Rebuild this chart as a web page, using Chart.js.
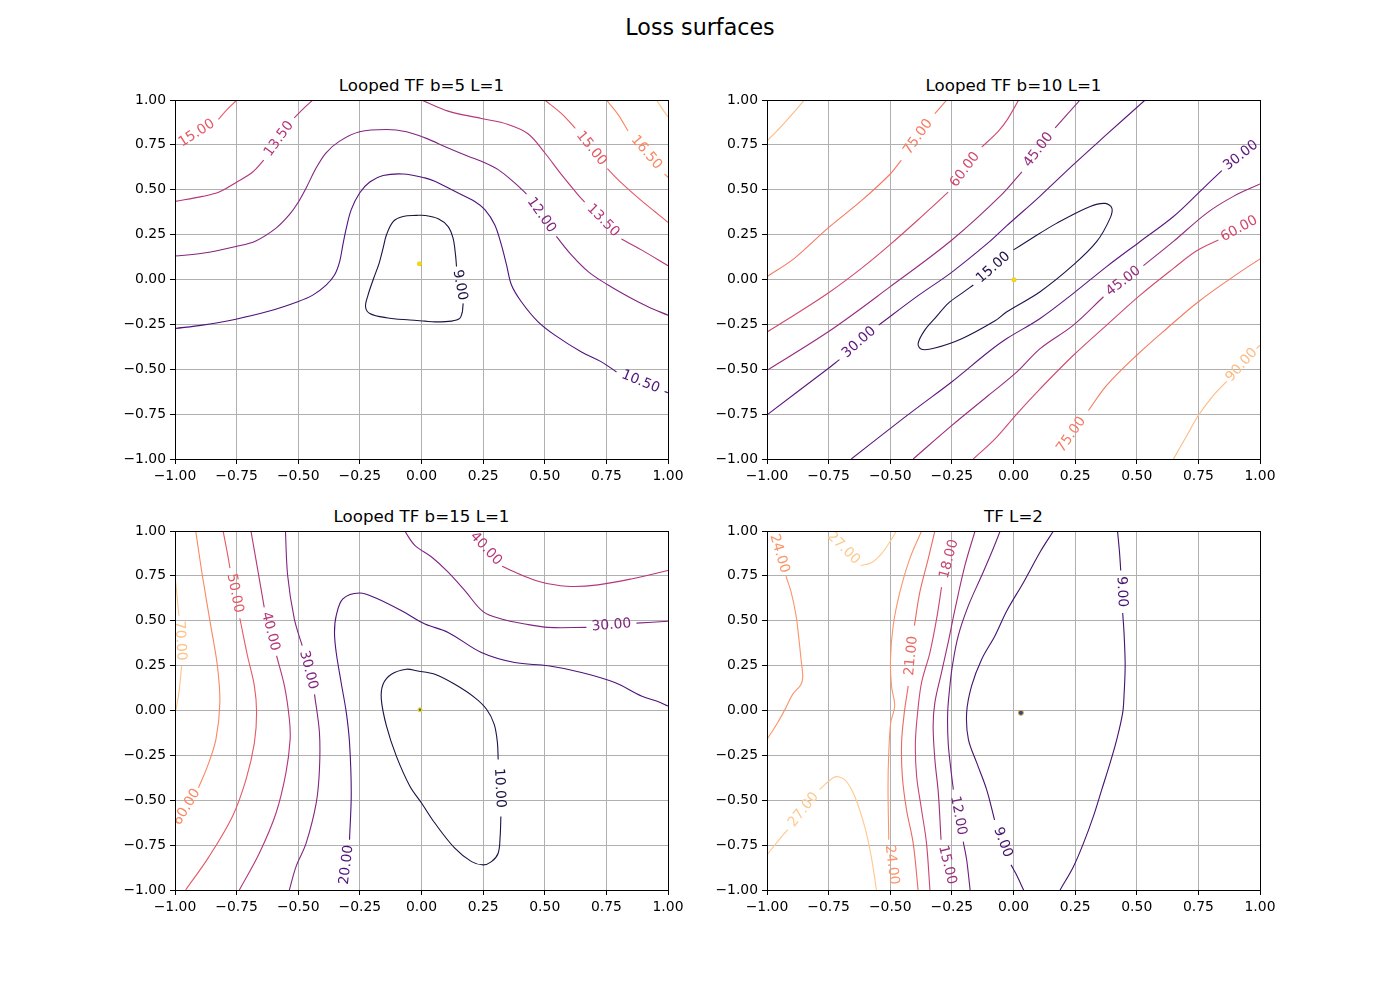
<!DOCTYPE html>
<html>
<head>
<meta charset="utf-8">
<script src="https://cdn.jsdelivr.net/npm/chart.js@4.4.1/dist/chart.umd.min.js"></script>
<style>
  body { margin: 0; background: #fff; }
  #fig { position: relative; width: 1400px; height: 1000px; font-family: "DejaVu Sans", sans-serif; color: #000; }
  .title { position: absolute; width: 400px; text-align: center; line-height: 1; white-space: nowrap; }
  canvas { position: absolute; }
</style>
</head>
<body>
<div id="fig">
  <div class="title" style="left:500px; top:16px; font-size:22.2px;">Loss surfaces</div>
  <div class="title" style="left:221.5px; top:78px; font-size:16.67px;">Looped TF b=5 L=1</div>
  <div class="title" style="left:813.5px; top:78px; font-size:16.67px;">Looped TF b=10 L=1</div>
  <div class="title" style="left:221.5px; top:509px; font-size:16.67px;">Looped TF b=15 L=1</div>
  <div class="title" style="left:813.5px; top:509px; font-size:16.67px;">TF L=2</div>
  <canvas id="c0" width="588" height="409" style="left:100px; top:80px;"></canvas>
  <canvas id="c1" width="588" height="409" style="left:692px; top:80px;"></canvas>
  <canvas id="c2" width="588" height="409" style="left:100px; top:511px;"></canvas>
  <canvas id="c3" width="588" height="409" style="left:692px; top:511px;"></canvas>
</div>
<script>
// tick positions shared by every panel
const ticks = [-1, -0.75, -0.5, -0.25, 0, 0.25, 0.5, 0.75, 1];

// contour paths, [x, y]; null = gap where the label sits
// --- Looped TF b=5 L=1
const tl9 = [[0.166,-0.180],[0.169,-0.133],null,[0.142,0.072],[0.138,0.137],[0.128,0.230],[0.108,0.295],[0.068,0.338],[0.014,0.357],[-0.020,0.357],[-0.075,0.351],[-0.115,0.323],[-0.142,0.249],[-0.156,0.174],[-0.172,0.090],[-0.194,0.007],[-0.217,-0.087],[-0.227,-0.152],[-0.210,-0.189],[-0.142,-0.213],[-0.047,-0.226],[0.014,-0.232],[0.054,-0.236],[0.122,-0.232],[0.155,-0.217],[0.166,-0.180]];
const tl105 = [[-1,-0.273],[-0.889,-0.254],[-0.753,-0.221],[-0.617,-0.176],[-0.502,-0.124],[-0.441,-0.087],[-0.387,-0.031],[-0.353,0.025],[-0.332,0.100],[-0.319,0.193],[-0.305,0.286],[-0.285,0.389],[-0.251,0.482],[-0.210,0.543],[-0.156,0.579],[-0.075,0.588],[0.014,0.566],[0.054,0.547],[0.135,0.491],[0.216,0.435],[0.257,0.389],[0.297,0.305],[0.324,0.193],[0.345,0.081],[0.365,-0.031],[0.405,-0.124],[0.473,-0.236],[0.541,-0.310],[0.649,-0.404],[0.730,-0.459],[0.791,-0.515],null,[0.986,-0.624],[1.0,-0.631]];
const tl12 = [[-1,0.131],[-0.889,0.146],[-0.753,0.184],[-0.672,0.215],[-0.590,0.286],[-0.536,0.361],[-0.502,0.426],[-0.468,0.510],[-0.427,0.622],[-0.387,0.706],[-0.332,0.771],[-0.251,0.823],[-0.142,0.836],[-0.061,0.823],[0.014,0.789],[0.108,0.733],[0.189,0.687],[0.243,0.659],[0.311,0.612],[0.378,0.538],[0.426,0.476],null,[0.547,0.240],[0.608,0.137],[0.676,0.044],[0.757,-0.031],[0.851,-0.105],[0.919,-0.152],[1.0,-0.199]];
const tl135a = [[-1,0.435],[-0.889,0.463],[-0.821,0.487],[-0.749,0.543],[-0.685,0.599],[-0.640,0.665],null,[-0.516,0.901],[-0.482,0.948],[-0.441,1.0]];
const tl135b = [[0,1.0],[0.108,0.938],[0.243,0.897],[0.351,0.864],[0.432,0.812],[0.5,0.706],[0.568,0.584],[0.635,0.472],[0.662,0.431],null,[0.811,0.226],[0.892,0.165],[1.0,0.077]];
const tl15a = [[-1,0.737],null,[-0.824,0.892],[-0.79,0.945],[-0.749,1.0]];
const tl15b = [[0.5,1.0],[0.568,0.924],[0.624,0.842],null,[0.754,0.618],[0.811,0.538],[0.892,0.439],[0.946,0.379],[1.0,0.318]];
const tl165 = [[0.75,1.0],[0.797,0.92],[0.838,0.827],null,[0.986,0.588],[1.0,0.569]];
const tl18 = [[0.953,1.0],[0.975,0.955],[1.0,0.905]];

// --- Looped TF b=10 L=1
const tr15 = [[0.054,0.212],[0.176,0.314],[0.311,0.407],[0.372,0.424],[0.399,0.398],[0.392,0.342],[0.338,0.212],[0.243,0.081],[0.108,-0.068],[-0.027,-0.180],[-0.075,-0.230],[-0.210,-0.330],[-0.319,-0.382],[-0.373,-0.389],[-0.387,-0.357],[-0.360,-0.282],[-0.319,-0.217],[-0.265,-0.133],[-0.210,-0.077],[-0.163,-0.031],null,[0.0,0.165],[0.054,0.212]];
const tr30a = [[-1,-0.754],[-0.753,-0.497],[-0.706,-0.446],null,[-0.547,-0.254],[-0.387,-0.090],[-0.251,0.040],[-0.102,0.205],[-0.027,0.300],[0.108,0.465],[0.243,0.640],[0.378,0.808],[0.534,1.0]];
const tr30b = [[-0.658,-1.0],[-0.502,-0.832],[-0.387,-0.711],[-0.251,-0.571],[-0.102,-0.404],[-0.027,-0.329],[0.108,-0.217],[0.243,-0.077],[0.378,0.072],[0.514,0.212],[0.649,0.351],[0.757,0.491],[0.845,0.607],null,[1.0,0.775]];
const tr45a = [[-1,-0.506],[-0.75,-0.29],[-0.5,-0.04],[-0.25,0.22],[-0.05,0.47],[0.034,0.60],null,[0.169,0.845],[0.27,1.0]];
const tr45b = [[-0.407,-1.0],[-0.251,-0.814],[-0.102,-0.646],[0.014,-0.515],[0.108,-0.385],[0.243,-0.254],[0.365,-0.096],null,[0.527,0.077],[0.649,0.212],[0.784,0.370],[0.892,0.463],[1.0,0.532]];
const tr60a = [[-1,-0.292],[-0.889,-0.198],[-0.753,-0.077],[-0.617,0.062],[-0.502,0.193],[-0.387,0.333],[-0.265,0.487],null,[-0.129,0.737],[-0.061,0.827],[-0.026,0.889],[0.021,1.0]];
const tr60b = [[-0.163,-1.0],[-0.075,-0.888],[0.014,-0.748],[0.108,-0.609],[0.243,-0.422],[0.378,-0.254],[0.514,-0.087],[0.649,0.062],[0.743,0.160],[0.831,0.220],null,[1.0,0.345]];
const tr75a = [[-1,0.016],[-0.889,0.118],[-0.753,0.286],[-0.617,0.439],[-0.502,0.585],[-0.455,0.665],null,[-0.319,0.924],[-0.271,1.0]];
const tr75b = [[0.165,-1.0],null,[0.304,-0.73],[0.378,-0.59],[0.5,-0.422],[0.622,-0.273],[0.75,-0.124],[0.892,0.016],[1.0,0.115]];
const tr90a = [[-1,0.771],[-0.929,0.873],[-0.848,1.0]];
const tr90b = [[0.649,-1.0],[0.703,-0.87],[0.75,-0.758],[0.811,-0.646],[0.865,-0.568],null,[0.986,-0.385],[1.0,-0.366]];

// --- Looped TF b=15 L=1
const bl10 = [[0.322,-0.590],[0.319,-0.702],[0.311,-0.795],[0.284,-0.842],[0.25,-0.860],[0.203,-0.842],[0.135,-0.767],[0.054,-0.627],[0.0,-0.515],[-0.047,-0.422],[-0.102,-0.254],[-0.142,-0.087],[-0.163,0.062],[-0.156,0.146],[-0.122,0.202],[-0.061,0.230],[-0.020,0.221],[0.054,0.202],[0.135,0.146],[0.216,0.072],[0.264,0.007],[0.295,-0.077],[0.308,-0.180],[0.311,-0.273],null,[0.322,-0.590]];
const bl20 = [[-0.316,-1.0],null,[-0.292,-0.720],[-0.285,-0.459],[-0.292,-0.180],[-0.305,-0.012],[-0.326,0.156],[-0.346,0.323],[-0.353,0.435],[-0.346,0.528],[-0.319,0.622],[-0.251,0.655],[-0.183,0.625],[-0.075,0.551],[0.014,0.482],[0.108,0.435],[0.243,0.323],[0.378,0.267],[0.514,0.249],[0.649,0.212],[0.784,0.156],[0.892,0.081],[0.959,0.050],[1.0,0.025]];
const bl30a = [[-0.552,1.0],[-0.543,0.752],[-0.516,0.510],[-0.484,0.361],null,[-0.434,0.090],[-0.414,-0.124],[-0.414,-0.329],[-0.427,-0.515],[-0.468,-0.739],[-0.509,-0.870],[-0.536,-1.0]];
const bl30b = [[-0.068,1.0],[-0.027,0.920],[0.041,0.855],[0.108,0.771],[0.176,0.668],[0.25,0.551],[0.324,0.510],[0.419,0.482],[0.514,0.463],[0.669,0.463],null,[0.872,0.487],[1.0,0.497]];
const bl40a = [[-0.692,1.0],[-0.665,0.789],[-0.638,0.575],null,[-0.588,0.305],[-0.556,0.137],[-0.536,-0.049],[-0.533,-0.161],[-0.550,-0.348],[-0.590,-0.571],[-0.658,-0.795],[-0.739,-1.0]];
const bl40b = [[0.196,1.0],null,[0.327,0.804],[0.378,0.771],[0.446,0.733],[0.514,0.706],[0.608,0.691],[0.716,0.7],[0.851,0.733],[1.0,0.780]];
const bl50 = [[-0.805,1.0],[-0.787,0.873],[-0.777,0.793],null,[-0.737,0.514],[-0.706,0.305],[-0.678,0.137],[-0.669,-0.012],[-0.678,-0.180],[-0.712,-0.385],[-0.767,-0.590],[-0.862,-0.814],[-0.957,-1.0]];
const bl60 = [[-0.916,1.0],[-0.889,0.752],[-0.855,0.473],[-0.828,0.249],[-0.818,0.044],[-0.834,-0.161],[-0.868,-0.310],[-0.905,-0.431],null,[-1.0,-0.646]];
const bl70 = [[-1,0.752],[-0.992,0.64],[-0.984,0.528],null,[-0.973,0.249],[-0.984,0.1],[-0.997,-0.003]];

// --- TF L=2
const br9a = [[0.162,1.0],[0.108,0.883],[0.041,0.715],[-0.027,0.556],[-0.075,0.417],[-0.129,0.286],[-0.170,0.137],[-0.190,-0.012],[-0.183,-0.161],[-0.149,-0.292],[-0.109,-0.441],[-0.077,-0.609],null,[-0.01,-0.86],[0.01,-0.91],[0.041,-1.0]];
const br9b = [[0.422,1.0],[0.43,0.883],[0.435,0.780],null,[0.443,0.543],[0.449,0.417],[0.453,0.249],[0.449,0.1],[0.443,-0.012],[0.419,-0.161],[0.392,-0.292],[0.358,-0.441],[0.324,-0.590],[0.284,-0.739],[0.243,-0.870],[0.189,-1.0]];
const br12 = [[-0.054,1.0],[-0.088,0.883],[-0.129,0.752],[-0.183,0.584],[-0.224,0.417],[-0.248,0.249],[-0.258,0.137],[-0.267,-0.012],[-0.265,-0.180],[-0.254,-0.329],[-0.244,-0.441],null,[-0.204,-0.730],[-0.190,-0.832],[-0.176,-1.0]];
const br15 = [[-0.156,1.0],[-0.197,0.808],[-0.237,0.566],[-0.265,0.379],[-0.292,0.212],[-0.319,0.044],[-0.326,-0.087],[-0.319,-0.273],[-0.305,-0.459],[-0.294,-0.720],null,[-0.244,-1.0]];
const br18 = [[-0.231,1.0],null,[-0.292,0.687],[-0.312,0.510],[-0.339,0.323],[-0.373,0.156],[-0.389,-0.012],[-0.398,-0.180],[-0.393,-0.366],[-0.373,-0.553],[-0.353,-0.739],[-0.339,-1.0]];
const br21 = [[-0.319,1.0],[-0.346,0.845],[-0.380,0.659],[-0.402,0.473],null,[-0.427,0.137],[-0.443,-0.012],[-0.454,-0.180],[-0.451,-0.366],[-0.434,-0.553],[-0.407,-0.739],[-0.387,-1.0]];
const br24a = [[-0.977,1.0],null,[-0.923,0.748],[-0.902,0.659],[-0.882,0.528],[-0.872,0.417],[-0.862,0.286],[-0.855,0.184],[-0.864,0.141],[-0.896,0.090],[-0.923,0.016],[-0.957,-0.068],[-1.0,-0.161]];
const br24b = [[-0.373,1.0],[-0.421,0.845],[-0.461,0.659],[-0.488,0.473],[-0.499,0.286],[-0.495,0.137],[-0.482,0.025],[-0.498,-0.068],[-0.506,-0.236],[-0.509,-0.422],[-0.506,-0.720],null,[-0.482,-1.0]];
const br27a = [[-0.760,1.0],null,[-0.620,0.808],[-0.577,0.823],[-0.536,0.873],[-0.502,0.938],[-0.475,1.0]];
const br27b = [[-1,-0.804],[-0.957,-0.730],[-0.916,-0.664],null,[-0.787,-0.441],[-0.733,-0.376],[-0.706,-0.370],[-0.678,-0.394],[-0.644,-0.478],[-0.604,-0.646],[-0.577,-0.814],[-0.556,-1.0]];

// optimum markers (start = blue, end = yellow)
const tlStart = [-0.004, 0.084], tlEnd = [-0.008, 0.088];
const trStart = [0.004, -0.004], trEnd = [0.002, -0.002];
const blStart = [-0.006, 0.004], blEnd = [-0.006, 0.004];
const brStart = [0.030, -0.013];

// magma colormap anchors
const magmaStops = ['#000004','#1c1044','#4f127b','#812581','#b5367a','#e55964','#fb8761','#fec287','#fcfdbf'];
function magma(t) {
  t = Math.min(1, Math.max(0, t));
  const s = t * (magmaStops.length - 1);
  const i = Math.min(magmaStops.length - 2, Math.floor(s));
  const f = s - i;
  const a = magmaStops[i], b = magmaStops[i + 1];
  const c = k => Math.round(parseInt(a.substr(k, 2), 16) * (1 - f) + parseInt(b.substr(k, 2), 16) * f);
  return `rgb(${c(1)},${c(3)},${c(5)})`;
}

function contour(pts, level, lo, hi) {
  return {
    data: pts.map(p => p ? { x: p[0], y: p[1] } : { x: null, y: null }),
    level: level,
    showLine: true,
    borderColor: magma((level - lo) / (hi - lo)),
    borderWidth: 1.1,
    pointRadius: 0,
    pointHoverRadius: 0,
    tension: 0.35,
    spanGaps: false,
    fill: false
  };
}

function marker(p, fill, r, border) {
  return {
    data: [{ x: p[0], y: p[1] }],
    showLine: false,
    pointRadius: r,
    pointBackgroundColor: fill,
    pointBorderColor: border || fill,
    pointBorderWidth: border ? 1 : 0
  };
}

const fmt = v => v.toFixed(2).replace('-', '\u2212');

// inline contour labels, drawn in the gaps
const contourLabels = {
  id: 'contourLabels',
  afterDatasetsDraw(chart) {
    const { ctx, chartArea: a, scales: { x, y } } = chart;
    ctx.save();
    ctx.beginPath();
    ctx.rect(a.left, a.top, a.right - a.left, a.bottom - a.top);
    ctx.clip();
    ctx.font = '13.9px "DejaVu Sans"';
    ctx.textAlign = 'center';
    ctx.textBaseline = 'middle';
    chart.data.datasets.forEach(ds => {
      if (ds.level === undefined) return;
      const d = ds.data;
      for (let i = 1; i < d.length - 1; i++) {
        if (d[i].y !== null) continue;
        const x1 = x.getPixelForValue(d[i - 1].x), y1 = y.getPixelForValue(d[i - 1].y);
        const x2 = x.getPixelForValue(d[i + 1].x), y2 = y.getPixelForValue(d[i + 1].y);
        let ang = Math.atan2(y2 - y1, x2 - x1);
        if (ang > Math.PI / 2) ang -= Math.PI;
        if (ang <= -Math.PI / 2) ang += Math.PI;
        ctx.save();
        ctx.translate((x1 + x2) / 2, (y1 + y2) / 2);
        ctx.rotate(ang);
        ctx.fillStyle = ds.borderColor;
        ctx.fillText(fmt(ds.level), 0, 0);
        ctx.restore();
      }
    });
    ctx.restore();
  }
};

// top and right spines
const frame = {
  id: 'frame',
  afterDraw(chart) {
    const { ctx, chartArea: a } = chart;
    ctx.save();
    ctx.strokeStyle = '#000';
    ctx.lineWidth = 1;
    ctx.strokeRect(Math.round(a.left) + 0.5, Math.round(a.top) + 0.5, Math.round(a.right - a.left), Math.round(a.bottom - a.top));
    ctx.restore();
  }
};

Chart.defaults.font.family = '"DejaVu Sans"';
Chart.defaults.font.size = 13.9;
Chart.defaults.color = '#000';

function axis(isX) {
  return {
    type: 'linear',
    min: -1, max: 1,
    afterBuildTicks: s => { s.ticks = ticks.map(v => ({ value: v })); },
    ticks: { callback: v => fmt(v), padding: 4, maxRotation: 0, autoSkip: false },
    grid: { color: '#b0b0b0', lineWidth: 1, tickColor: '#000', tickLength: 5, tickWidth: 1 },
    border: { color: '#000', width: 1 },
    afterFit: s => { if (isX) s.height = 30; else s.width = 75; }
  };
}

function panel(id, datasets) {
  new Chart(document.getElementById(id), {
    type: 'scatter',
    data: { datasets },
    options: {
      responsive: false,
      animation: false,
      layout: { padding: { top: 20, right: 20, left: 0, bottom: 0 } },
      plugins: { legend: { display: false }, tooltip: { enabled: false } },
      events: [],
      scales: { x: axis(true), y: axis(false) }
    },
    plugins: [contourLabels, frame]
  });
}

panel('c0', [
  contour(tl9, 9, 7.5, 19.5), contour(tl105, 10.5, 7.5, 19.5), contour(tl12, 12, 7.5, 19.5),
  contour(tl135a, 13.5, 7.5, 19.5), contour(tl135b, 13.5, 7.5, 19.5),
  contour(tl15a, 15, 7.5, 19.5), contour(tl15b, 15, 7.5, 19.5),
  contour(tl165, 16.5, 7.5, 19.5), contour(tl18, 18, 7.5, 19.5),
  marker(tlEnd, '#f2d41c', 2.5), marker(tlStart, '#2a6fb5', 1.4)
]);
panel('c1', [
  contour(tr15, 15, 0, 105),
  contour(tr30a, 30, 0, 105), contour(tr30b, 30, 0, 105),
  contour(tr45a, 45, 0, 105), contour(tr45b, 45, 0, 105),
  contour(tr60a, 60, 0, 105), contour(tr60b, 60, 0, 105),
  contour(tr75a, 75, 0, 105), contour(tr75b, 75, 0, 105),
  contour(tr90a, 90, 0, 105), contour(tr90b, 90, 0, 105),
  marker(trEnd, '#f2d41c', 2.5), marker(trStart, '#2a6fb5', 1.2)
]);
panel('c2', [
  contour(bl10, 10, 0, 80), contour(bl20, 20, 0, 80),
  contour(bl30a, 30, 0, 80), contour(bl30b, 30, 0, 80),
  contour(bl40a, 40, 0, 80), contour(bl40b, 40, 0, 80),
  contour(bl50, 50, 0, 80), contour(bl60, 60, 0, 80), contour(bl70, 70, 0, 80),
  marker(blStart, '#2a6fb5', 1.2), marker(blEnd, '#f2d41c', 2.5)
]);
panel('c3', [
  contour(br9a, 9, 3, 30), contour(br9b, 9, 3, 30), contour(br12, 12, 3, 30),
  contour(br15, 15, 3, 30), contour(br18, 18, 3, 30), contour(br21, 21, 3, 30),
  contour(br24a, 24, 3, 30), contour(br24b, 24, 3, 30),
  contour(br27a, 27, 3, 30), contour(br27b, 27, 3, 30),
  marker(brStart, '#1f4e9a', 2.5, '#e0a030')
]);
</script>
</body>
</html>
